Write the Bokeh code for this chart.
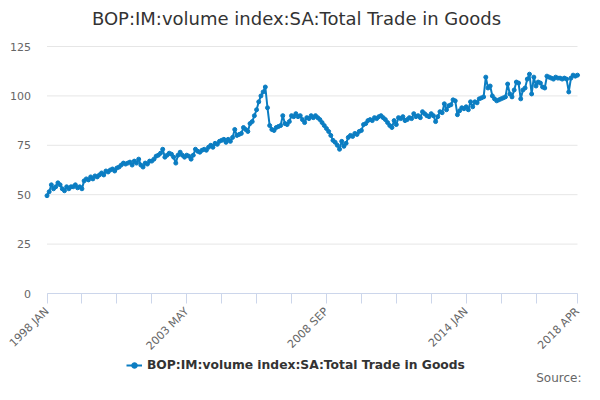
from bokeh.plotting import figure
from bokeh.models import (Range1d, FixedTicker, Label, Legend, LegendItem, ColumnDataSource)
from bokeh.embed import file_html
from bokeh.resources import INLINE
import math

TITLE = "BOP:IM:volume index:SA:Total Trade in Goods"
SERIES = "BOP:IM:volume index:SA:Total Trade in Goods"
SOURCE = "Source:"

y1998 = [49.5, 51.5, 55, 53, 54, 56, 55, 53, 52, 54, 53, 54]
y1999 = [54, 55, 53.5, 54, 53, 57, 58, 57.5, 59, 58, 59.5, 59]
y2000 = [60, 61, 60, 62, 61.5, 62.5, 63, 62, 63.5, 64, 65, 66]
y2001 = [65.5, 66, 66.5, 65, 67, 66, 68, 65, 64, 66, 65.5, 67]
y2002 = [67, 68, 69.5, 70, 71, 73, 69, 70, 71, 70.5, 69, 66]
y2003 = [70, 71.5, 70, 69, 70, 69.5, 68, 70, 73, 72, 71.5, 72.5]
y2004 = [73, 72.5, 74, 75, 74, 76, 75.5, 77, 77.5, 78, 76.5, 78]
y2005 = [77, 79, 83, 80, 80.5, 81, 84, 83, 82, 86, 87, 90]
y2006 = [93, 97, 100, 102, 104.5, 94, 85, 83, 82.5, 84, 84.5, 85]
y2007 = [90, 86, 85.5, 87, 90, 89.5, 91, 89.5, 90, 88, 86.5, 89]
y2008 = [88.5, 90, 89, 90, 89, 88, 86.5, 85, 83.5, 82, 80, 77.5]
y2009 = [76.5, 75, 73, 77, 74.5, 76, 79, 80, 79.5, 81, 80.5, 82]
y2010 = [82.5, 85.5, 86, 87.5, 88, 87.5, 89, 88.5, 89.5, 90, 89, 88]
y2011 = [86.5, 85, 84, 87.5, 85.5, 89, 88.5, 89.5, 87.5, 88, 89, 88.5]
y2012 = [91, 89.5, 90, 89, 92, 91, 90, 89.5, 91, 90, 87, 89.5]
y2013 = [92, 91.5, 96, 93, 95, 95.5, 98, 97.5, 90.5, 92.5, 94, 93.5]
y2014 = [94.5, 93, 97, 94.5, 97, 96.5, 98.5, 99, 99.5, 109.5, 104, 105]
y2015 = [100, 98.5, 97.5, 98, 98.5, 99, 99.5, 106, 101, 99.5, 103, 107]
y2016 = [106.5, 98.5, 103, 104, 108.5, 111, 101, 109.5, 105, 107, 106.5, 104.5]
y2017 = [104, 110, 109.5, 109, 108.5, 109.5, 109, 109, 108.5, 109, 108.5, 102]
y2018 = [109, 110.5, 110, 110.5]

values = (y1998 + y1999 + y2000 + y2001 + y2002 + y2003 + y2004 + y2005 + y2006 +
          y2007 + y2008 + y2009 + y2010 + y2011 + y2012 + y2013 + y2014 + y2015 +
          y2016 + y2017 + y2018)

MONTHS = ["JAN", "FEB", "MAR", "APR", "MAY", "JUN", "JUL", "AUG", "SEP", "OCT", "NOV", "DEC"]
periods = ["%d %s" % (1998 + i // 12, MONTHS[i % 12]) for i in range(len(values))]
label_periods = ["1998 JAN", "2003 MAY", "2008 SEP", "2014 JAN", "2018 APR"]
y_ticks = [0, 25, 50, 75, 100, 125]

idx = list(range(len(values)))
src = ColumnDataSource(dict(x=idx, y=values, period=periods))

# ---- layout (pixels) ----
W, H = 584, 384
X0_PX, XN_PX = 46.5, 577   # pixel of first / last period
Y0_PX, Y125_PX = 293, 46   # pixel of value 0 / 125
n = len(values)
ppx = (XN_PX - X0_PX) / (n - 1)
ppy = (Y0_PX - Y125_PX) / 125.0
x_start = -X0_PX / ppx
x_end = (n - 1) + (W - XN_PX) / ppx
y_end = 125 + Y125_PX / ppy
y_start = -(H - Y0_PX) / ppy

p = figure(width=W, height=H, output_backend="svg", toolbar_location=None,
           x_range=Range1d(x_start, x_end), y_range=Range1d(y_start, y_end),
           min_border_left=0, min_border_right=0, min_border_top=0, min_border_bottom=0)
p.outline_line_color = None
p.background_fill_color = "white"
p.border_fill_color = "white"

# horizontal grid lines spanning the data extent only
grid_src = ColumnDataSource(dict(x0=[0] * len(y_ticks), x1=[n - 1] * len(y_ticks),
                                 y=y_ticks))
p.segment(x0="x0", x1="x1", y0="y", y1="y", source=grid_src,
          line_color="#e6e6e6", line_width=1, level="underlay")

BLUE = "#0b7dc2"
lr = p.line("x", "y", source=src, line_color=BLUE, line_width=2)
sr = p.scatter("x", "y", source=src, size=4, fill_color=BLUE, line_color=BLUE)

# x axis, pinned at y = 0
tick_pos = list(range(0, n - 1, 16))
if tick_pos[-1] > n - 8:
    tick_pos = tick_pos[:-1]
tick_pos.append(n - 1)
overrides = {}
for t in tick_pos:
    overrides[t] = periods[t] if periods[t] in label_periods else ""
xa = p.xaxis[0]
xa.fixed_location = 0
xa.bounds = (0, n - 1)
xa.ticker = FixedTicker(ticks=tick_pos)
xa.major_label_overrides = overrides
xa.major_label_orientation = math.pi / 4
xa.axis_line_color = "#ccd6eb"
xa.major_tick_line_color = "#ccd6eb"
xa.major_tick_out = 10
xa.major_tick_in = 0
xa.minor_tick_line_color = None
xa.major_label_text_color = "#666666"
xa.major_label_text_font = "DejaVu Sans"
xa.major_label_text_font_size = "11px"
xa.major_label_standoff = 6

# y axis, pinned at x = 0
ya = p.yaxis[0]
ya.fixed_location = 0
ya.ticker = FixedTicker(ticks=y_ticks)
ya.axis_line_color = None
ya.major_tick_line_color = None
ya.major_tick_out = 0
ya.major_tick_in = 0
ya.minor_tick_line_color = None
ya.major_label_text_color = "#666666"
ya.major_label_text_font = "DejaVu Sans"
ya.major_label_text_font_size = "11px"
ya.major_label_standoff = 16

p.xgrid.visible = False
p.ygrid.visible = False

# title and source (frame-relative screen units: y measured up from frame bottom)
p.add_layout(Label(x=296, y=H - 18, x_units="screen", y_units="screen", text=TITLE,
                   text_align="center", text_baseline="middle", text_font="DejaVu Sans",
                   text_font_size="18px", text_color="#333333"))
p.add_layout(Label(x=581, y=H - 377, x_units="screen", y_units="screen", text=SOURCE,
                   text_align="right", text_baseline="middle", text_font="DejaVu Sans",
                   text_font_size="12px", text_color="#666666"))

legend = Legend(items=[LegendItem(label=SERIES, renderers=[lr, sr])],
                location=(126, H - 372), orientation="horizontal",
                border_line_color=None, background_fill_alpha=0,
                label_text_font="DejaVu Sans", label_text_font_style="bold",
                label_text_font_size="12.3px", label_text_color="#333333",
                glyph_width=16, glyph_height=14, padding=0, margin=0, spacing=0,
                label_standoff=5)
p.add_layout(legend)

open("out.html", "w").write(file_html(p, INLINE))
